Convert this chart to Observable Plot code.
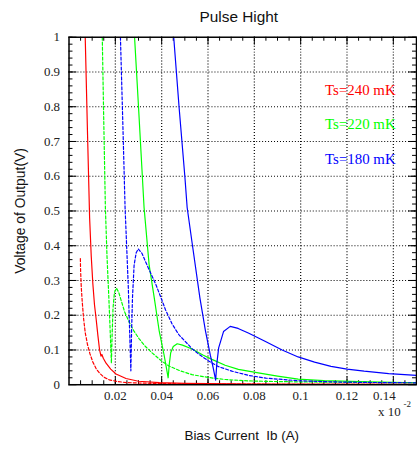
<!DOCTYPE html>
<html>
<head>
<meta charset="utf-8">
<script src="https://cdn.jsdelivr.net/npm/d3@7"></script>
<script src="https://cdn.jsdelivr.net/npm/@observablehq/plot@0.6"></script>
<style>
  html, body { margin: 0; padding: 0; background: #fff; overflow: hidden; }
  #chart { width: 417px; height: 452px; overflow: hidden; }
</style>
</head>
<body>
<div id="chart"></div>
<script>
// ---- data (x in units of 1e-2 A as shown on the axis, y in V) ----
const title = "Pulse Hight";
const xLabel = "Bias Current  Ib (A)";
const yLabel = "Voltage of Output(V)";
const xExponent = "x 10";
const xExponentSup = "-2";

const xTicks = [0.02, 0.04, 0.06, 0.08, 0.10, 0.12, 0.14];
const xTickLabels = ["0.02", "0.04", "0.06", "0.08", "0.1", "0.12", "0.14"];
const yTicks = [0, 0.1, 0.2, 0.3, 0.4, 0.5, 0.6, 0.7, 0.8, 0.9, 1];
const yTickLabels = ["0", "0.1", "0.2", "0.3", "0.4", "0.5", "0.6", "0.7", "0.8", "0.9", "1"];

const legendLabels = ["Ts=240 mK", "Ts=220 mK", "Ts=180 mK"];
const seriesColors = ["#ff0000", "#00ff00", "#0000ff"];

// Ts=240 mK
const red240SolidX = [0.0070, 0.0080, 0.0089, 0.0096, 0.0103, 0.0110, 0.0117, 0.0125, 0.0132, 0.0138, 0.0142, 0.0148, 0.0160, 0.0180, 0.0203, 0.0246, 0.0300, 0.0390, 0.0500, 0.0800, 0.1500];
const red240SolidY = [1.00, 0.72, 0.48, 0.37, 0.29, 0.23, 0.19, 0.14, 0.10, 0.082, 0.087, 0.076, 0.062, 0.045, 0.031, 0.018, 0.010, 0.006, 0.004, 0.002, 0.001];
const red240DashX = [0.0049, 0.0050, 0.0053, 0.0057, 0.0063, 0.0070, 0.0080, 0.0090, 0.0103, 0.0118, 0.0131, 0.0150, 0.0174, 0.0210, 0.0250, 0.0350, 0.0500, 0.0800, 0.1500];
const red240DashY = [0.363, 0.33, 0.28, 0.24, 0.19, 0.15, 0.115, 0.09, 0.065, 0.045, 0.034, 0.022, 0.014, 0.009, 0.006, 0.004, 0.0025, 0.0015, 0.0008];

// Ts=220 mK
const green220SolidX = [0.0283, 0.0300, 0.0324, 0.0346, 0.0368, 0.0389, 0.0410, 0.0420, 0.0428, 0.0433, 0.0439, 0.0450, 0.0467, 0.0490, 0.0531, 0.0580, 0.0617, 0.0674, 0.0731, 0.0817, 0.0900, 0.0989, 0.1100, 0.1300, 0.1500];
const green220SolidY = [1.00, 0.80, 0.51, 0.344, 0.25, 0.156, 0.087, 0.05, 0.02, 0.06, 0.092, 0.11, 0.118, 0.114, 0.103, 0.085, 0.073, 0.056, 0.044, 0.034, 0.025, 0.016, 0.012, 0.008, 0.0057];
const green220DashX = [0.01436, 0.0150, 0.0157, 0.0164, 0.0172, 0.0178, 0.0183, 0.0186, 0.0190, 0.0196, 0.0205, 0.0215, 0.0224, 0.0240, 0.0260, 0.0280, 0.0303, 0.0330, 0.0360, 0.0400, 0.0431, 0.0480, 0.0531, 0.0600, 0.0674, 0.0774, 0.0900, 0.1100, 0.1300, 0.1500];
const green220DashY = [1.00, 0.76, 0.51, 0.37, 0.25, 0.15, 0.062, 0.14, 0.22, 0.265, 0.278, 0.265, 0.245, 0.21, 0.18, 0.155, 0.132, 0.11, 0.091, 0.068, 0.054, 0.04, 0.029, 0.021, 0.015, 0.011, 0.009, 0.0075, 0.0065, 0.006];

// Ts=180 mK
const blue180SolidX = [0.0452, 0.0475, 0.0500, 0.0510, 0.0531, 0.0565, 0.0589, 0.0610, 0.0622, 0.0633, 0.0638, 0.0646, 0.0667, 0.0696, 0.0730, 0.0774, 0.0846, 0.0920, 0.0989, 0.1060, 0.1131, 0.1200, 0.1274, 0.1380, 0.1500];
const blue180SolidY = [1.00, 0.80, 0.60, 0.51, 0.41, 0.25, 0.155, 0.085, 0.05, 0.013, 0.06, 0.106, 0.153, 0.168, 0.162, 0.149, 0.125, 0.10, 0.08, 0.065, 0.053, 0.045, 0.039, 0.032, 0.027];
const blue180DashX = [0.0222, 0.0232, 0.0242, 0.0250, 0.0256, 0.0261, 0.0267, 0.0270, 0.0274, 0.0281, 0.0290, 0.0299, 0.0315, 0.0331, 0.0350, 0.0374, 0.0400, 0.0417, 0.0445, 0.0474, 0.0531, 0.0560, 0.0603, 0.0646, 0.0703, 0.0774, 0.0850, 0.0989, 0.1150, 0.1300, 0.1500];
const blue180DashY = [1.00, 0.76, 0.51, 0.38, 0.28, 0.17, 0.04, 0.15, 0.25, 0.344, 0.38, 0.391, 0.378, 0.353, 0.325, 0.29, 0.245, 0.215, 0.175, 0.144, 0.104, 0.088, 0.068, 0.052, 0.039, 0.027, 0.019, 0.0115, 0.008, 0.0065, 0.0055];

const xMinorTicks = d3.range(0.005, 0.1501, 0.005);
const yMinorTicks = d3.range(0.02, 1.0001, 0.02);

// ---- build tables ----
function series(xs, ys, name, color, dashed) {
  return xs.map((x, i) => ({x, y: ys[i], name, color, dashed}));
}
const lines = [
  series(red240DashX, red240DashY, "r-d", seriesColors[0], true),
  series(red240SolidX, red240SolidY, "r-s", seriesColors[0], false),
  series(green220DashX, green220DashY, "g-d", seriesColors[1], true),
  series(green220SolidX, green220SolidY, "g-s", seriesColors[1], false),
  series(blue180DashX, blue180DashY, "b-d", seriesColors[2], true),
  series(blue180SolidX, blue180SolidY, "b-s", seriesColors[2], false)
];

const W = 420, H = 452;
const mL = 69, mR = 1, mT = 37, mB = 65;
const frameW = W - mL - mR, frameH = H - mT - mB;
const serif = "'Liberation Serif', 'Times New Roman', serif";
const sans = "'Liberation Sans', Arial, Helvetica, sans-serif";

const marks = [
  Plot.gridX(xTicks, {stroke: "#000", strokeOpacity: 1, strokeWidth: 1.2, strokeDasharray: "1,2"}),
  Plot.gridY(yTicks.slice(1, -1), {stroke: "#000", strokeOpacity: 1, strokeWidth: 1.2, strokeDasharray: "1,2"}),
  // inward minor/major ticks on all four sides
  Plot.tickX(xMinorTicks, {x: d => d, stroke: "#000", insetTop: frameH - 4}),
  Plot.tickX(xMinorTicks, {x: d => d, stroke: "#000", insetBottom: frameH - 4}),
  Plot.tickX(xTicks, {x: d => d, stroke: "#000", insetTop: frameH - 8}),
  Plot.tickX(xTicks, {x: d => d, stroke: "#000", insetBottom: frameH - 8}),
  Plot.tickY(yMinorTicks, {y: d => d, stroke: "#000", insetRight: frameW - 4}),
  Plot.tickY(yMinorTicks, {y: d => d, stroke: "#000", insetLeft: frameW - 4}),
  Plot.tickY(yTicks, {y: d => d, stroke: "#000", insetRight: frameW - 8}),
  Plot.tickY(yTicks, {y: d => d, stroke: "#000", insetLeft: frameW - 8})
];

for (const s of lines) {
  marks.push(Plot.line(s, {
    x: "x", y: "y", stroke: s[0].color, strokeWidth: 1.2,
    strokeDasharray: s[0].dashed ? "3,2" : null, clip: true
  }));
}

const lastLabel = xTickLabels.length - 1;
marks.push(
  Plot.frame({stroke: "#000", strokeWidth: 1.5}),
  Plot.axisX(xTicks.slice(0, lastLabel), {tickSize: 0, tickPadding: 6, tickFormat: (d, i) => xTickLabels[i], fontFamily: serif, fontSize: 13, fill: "#222", label: null}),
  Plot.axisX(xTicks.slice(lastLabel), {tickSize: 0, tickPadding: 6, dx: -9, tickFormat: () => xTickLabels[lastLabel], fontFamily: serif, fontSize: 13, fill: "#222", label: null}),
  Plot.axisY(yTicks, {tickSize: 0, tickPadding: 9, tickFormat: (d, i) => yTickLabels[i], fontFamily: serif, fontSize: 13, fill: "#222", label: null}),
  Plot.text([title], {frameAnchor: "top", lineAnchor: "middle", text: d => d, dy: -20, dx: -4, fontFamily: sans, fontSize: 15.5, fill: "#111"}),
  Plot.text([xLabel], {frameAnchor: "bottom", lineAnchor: "middle", textAnchor: "middle", text: d => d, dy: 51, dx: -1, fontFamily: sans, fontSize: 13.5, fill: "#111"}),
  Plot.text([yLabel], {frameAnchor: "left", lineAnchor: "middle", textAnchor: "middle", text: d => d, rotate: -90, dx: -49, fontFamily: sans, fontSize: 14, fill: "#111"}),
  Plot.text([xExponent], {frameAnchor: "bottom-right", lineAnchor: "middle", textAnchor: "end", text: d => d, dx: -16, dy: 27, fontFamily: serif, fontSize: 13, fill: "#222"}),
  Plot.text([xExponentSup], {frameAnchor: "bottom-right", lineAnchor: "middle", textAnchor: "start", text: d => d, dx: -13, dy: 20, fontFamily: serif, fontSize: 9, fill: "#222"})
);

legendLabels.forEach((lab, i) => {
  marks.push(Plot.text([lab], {frameAnchor: "top-right", lineAnchor: "middle", textAnchor: "end", text: d => d, fill: seriesColors[i],
    dx: -21, dy: 53 + i * 35, fontFamily: serif, fontSize: 15}));
});

const chart = Plot.plot({
  width: W, height: H,
  marginLeft: mL, marginRight: mR, marginTop: mT, marginBottom: mB,
  x: {domain: [0, 0.15], axis: null},
  y: {domain: [0, 1], axis: null},
  style: {background: "#fff", overflow: "visible"},
  marks
});
document.getElementById("chart").appendChild(chart);
</script>
</body>
</html>
